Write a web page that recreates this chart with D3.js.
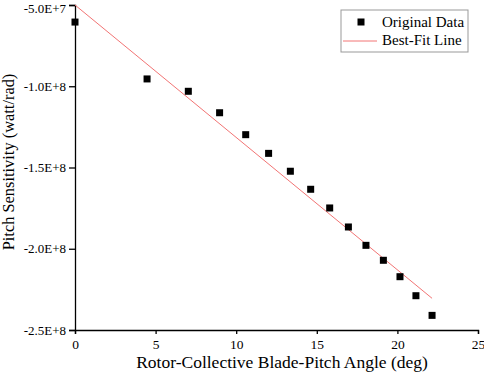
<!DOCTYPE html>
<html>
<head>
<meta charset="utf-8">
<script src="https://cdn.jsdelivr.net/npm/d3@7"></script>
<style>
  body { margin: 0; background: #fff; }
  text { font-family: "Liberation Serif", "Times New Roman", serif; fill: #000; }
</style>
</head>
<body>
<svg id="chart" width="484" height="381"></svg>
<script>
// 原始数据
const pitchAngle = [0, 4.47, 7.03, 8.97, 10.59, 12.01, 13.36, 14.62, 15.8, 16.96, 18.05, 19.13, 20.16, 21.15, 22.15];
const sensitivity = [-6.05e7, -9.55e7, -1.031e8, -1.163e8, -1.298e8, -1.413e8, -1.523e8, -1.634e8, -1.749e8, -1.866e8, -1.979e8, -2.071e8, -2.172e8, -2.289e8, -2.41e8];
// 拟合直线端点
const fitX = [0, 22.15];
const fitY = [-5.0e7, -2.305e8];
const xTicks = [0, 5, 10, 15, 20, 25];
const yTicks = [-5.0e7, -1.0e8, -1.5e8, -2.0e8, -2.5e8];
const yTickLabels = ["-5.0E+7", "-1.0E+8", "-1.5E+8", "-2.0E+8", "-2.5E+8"];
const legendLabels = ["Original Data", "Best-Fit Line"];

function drawChart() {
    const svg = d3.select("#chart");
    const margin = {top: 5, right: 6, bottom: 51, left: 75};
    const width = 484 - margin.left - margin.right;
    const height = 381 - margin.top - margin.bottom;
    const lineColor = "#f27474";

    const chart = svg.append("g")
        .attr("transform", `translate(${margin.left},${margin.top})`);

    const xScale = d3.scaleLinear().domain([0, 25]).range([0, width]);
    const yScale = d3.scaleLinear().domain([-2.5e8, -5.0e7]).range([height, 0]);

    // 坐标轴
    const xAxis = chart.append("g")
        .attr("transform", `translate(0,${height})`)
        .call(d3.axisBottom(xScale).tickValues(xTicks).tickSize(4).tickPadding(5).tickFormat(d3.format("d")));
    const yAxis = chart.append("g")
        .call(d3.axisLeft(yScale).tickValues(yTicks).tickSize(6).tickPadding(3)
            .tickFormat((d, i) => yTickLabels[i]));

    [xAxis, yAxis].forEach(ax => {
        ax.select(".domain").attr("stroke", "#000").attr("stroke-width", 1.3);
        ax.selectAll(".tick line").attr("stroke", "#000").attr("stroke-width", 1.3);
        ax.selectAll(".tick text")
            .style("font-family", "Liberation Serif")
            .style("font-size", "13px")
            .attr("fill", "#000");
    });
    xAxis.selectAll(".tick text").style("font-size", "13.5px");
    // 顶部标签稍微下移，避免被裁切
    yAxis.selectAll(".tick text").filter(d => d === yTicks[0]).attr("y", 3);

    // 拟合线
    const line = d3.line()
        .x(d => xScale(d[0]))
        .y(d => yScale(d[1]));
    chart.append("path")
        .datum(fitX.map((x, i) => [x, fitY[i]]))
        .attr("fill", "none")
        .attr("stroke", lineColor)
        .attr("stroke-width", 1)
        .attr("d", line);

    // 数据点
    const s = 7;
    chart.selectAll("rect.pt")
        .data(pitchAngle.map((x, i) => [x, sensitivity[i]]))
        .enter().append("rect")
        .attr("class", "pt")
        .attr("x", d => xScale(d[0]) - s / 2)
        .attr("y", d => yScale(d[1]) - s / 2)
        .attr("width", s)
        .attr("height", s)
        .attr("fill", "#000");

    // 轴标题
    svg.append("text")
        .attr("x", 282)
        .attr("y", 368)
        .attr("text-anchor", "middle")
        .style("font-size", "17.5px")
        .text("Rotor-Collective Blade-Pitch Angle (deg)");

    svg.append("text")
        .attr("transform", "translate(14,162) rotate(-90)")
        .attr("text-anchor", "middle")
        .style("font-size", "16.4px")
        .text("Pitch Sensitivity (watt/rad)");

    // 图例
    const legend = svg.append("g").attr("transform", "translate(341,10)");
    legend.append("rect")
        .attr("width", 127).attr("height", 42)
        .attr("fill", "#fff").attr("stroke", "#999").attr("stroke-width", 1);
    legend.append("rect")
        .attr("x", 20 - s / 2).attr("y", 12 - s / 2)
        .attr("width", s).attr("height", s).attr("fill", "#000");
    legend.append("line")
        .attr("x1", 2).attr("x2", 36).attr("y1", 31).attr("y2", 31)
        .attr("stroke", lineColor).attr("stroke-width", 1);
    legend.selectAll("text.lg")
        .data(legendLabels)
        .enter().append("text")
        .attr("class", "lg")
        .attr("x", 41)
        .attr("y", (d, i) => 17 + i * 18)
        .style("font-size", "15px")
        .text(d => d);
}

drawChart();
</script>
</body>
</html>
